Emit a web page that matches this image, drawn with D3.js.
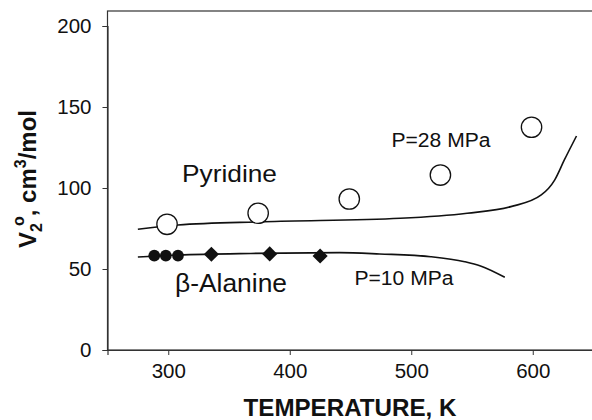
<!DOCTYPE html>
<html><head><meta charset="utf-8">
<script src="https://cdn.jsdelivr.net/npm/d3@7"></script>
<style>body{margin:0;background:#fff}svg{display:block}text{font-family:"Liberation Sans",Arial,sans-serif;fill:#111}</style>
</head><body>
<script>
// ---- data ----
const xTicks = [300, 400, 500, 600];
const yTicks = [0, 50, 100, 150, 200];
const pyridineT = [299, 374, 449, 524, 599];
const pyridineV = [77.6, 84.4, 93.2, 108, 137.5];
const alanineCircleT = [288.5, 298, 308];
const alanineCircleV = [58.3, 58.3, 58.3];
const alanineDiamondT = [335.5, 383.5, 425];
const alanineDiamondV = [59.1, 59.3, 58.0];
const pyridineCurveT = [275, 308, 379, 491, 546, 582, 607, 618, 626, 636];
const pyridineCurveV = [74.5, 77.2, 79.2, 81.3, 84.4, 88.5, 95.7, 104.9, 117.3, 132.1];
const alanineCurveT = [275, 308, 368, 441, 474, 516, 544, 557, 577];
const alanineCurveV = [57.4, 58.6, 59.6, 60.1, 59.3, 57.6, 54.5, 51.9, 44.9];

const W = 592, H = 420;
const svg = d3.select("body").append("svg").attr("width", W).attr("height", H);
const x = d3.scaleLinear().domain([250, 650]).range([107.5, 593.5]);
const y = d3.scaleLinear().domain([0, 200]).range([350, 26]);
const frameTop = 11;

// frame
svg.append("rect").attr("x", x(250)).attr("y", frameTop)
  .attr("width", x(650) - x(250)).attr("height", y(0) - frameTop)
  .attr("fill", "none").attr("stroke", "#333").attr("stroke-width", 1.2);

// axes
const gx = svg.append("g").attr("transform", `translate(0,${y(0)})`)
  .call(d3.axisBottom(x).tickValues(xTicks).tickSize(5).tickPadding(8).tickFormat(d3.format("d")));
const gy = svg.append("g").attr("transform", `translate(${x(250)},0)`)
  .call(d3.axisLeft(y).tickValues(yTicks).tickSize(5).tickPadding(11).tickFormat(d3.format("d")));
[gx, gy].forEach(g => {
  g.attr("font-size", null).attr("font-family", null);
  g.select(".domain").attr("stroke", "#333").attr("stroke-width", 1.2);
  g.selectAll(".tick line").attr("stroke", "#333").attr("stroke-width", 1);
  g.selectAll(".tick text").attr("fill", "#111")
    .style("font-size", "20.5px")
    .style("font-family", '"Liberation Sans",Arial,sans-serif');
});

// curves
const line = d3.line().x(d => x(d[0])).y(d => y(d[1])).curve(d3.curveMonotoneX);
svg.append("path").datum(d3.zip(pyridineCurveT, pyridineCurveV)).attr("d", line)
  .attr("fill", "none").attr("stroke", "#111").attr("stroke-width", 1.6);
svg.append("path").datum(d3.zip(alanineCurveT, alanineCurveV)).attr("d", line)
  .attr("fill", "none").attr("stroke", "#111").attr("stroke-width", 1.6);

// markers
svg.selectAll("circle.pyr").data(d3.zip(pyridineT, pyridineV)).join("circle")
  .attr("cx", d => x(d[0])).attr("cy", d => y(d[1])).attr("r", 10.2)
  .attr("fill", "#fff").attr("stroke", "#111").attr("stroke-width", 1.3);
svg.selectAll("circle.ala").data(d3.zip(alanineCircleT, alanineCircleV)).join("circle")
  .attr("cx", d => x(d[0])).attr("cy", d => y(d[1])).attr("r", 5.9).attr("fill", "#111");
const diamond = d3.symbol().type(d3.symbolSquare).size(115);
svg.selectAll("path.dia").data(d3.zip(alanineDiamondT, alanineDiamondV)).join("path")
  .attr("d", diamond).attr("fill", "#111")
  .attr("transform", d => `translate(${x(d[0])},${y(d[1])}) rotate(45)`);

// labels
function label(xc, yb, size, len, txt) {
  return svg.append("text").attr("x", xc).attr("y", yb).attr("text-anchor", "middle")
    .attr("font-size", size).attr("textLength", len).attr("lengthAdjust", "spacingAndGlyphs").text(txt);
}
label(229.5, 182, 24.5, 95, "Pyridine");
label(231, 292, 25, 112, "β-Alanine");
label(441, 146.5, 19.5, 99, "P=28 MPa");
label(404, 285, 19.5, 99, "P=10 MPa");

// axis titles
svg.append("text").attr("x", 350).attr("y", 416).attr("text-anchor", "middle")
  .attr("font-size", 24).attr("font-weight", "bold")
  .attr("textLength", 213).attr("lengthAdjust", "spacingAndGlyphs").text("TEMPERATURE, K");
const yt = svg.append("text").attr("transform", "translate(36,179) rotate(-90)")
  .attr("text-anchor", "middle").attr("font-size", 24).attr("font-weight", "bold");
yt.append("tspan").text("V");
yt.append("tspan").attr("font-size", 16).attr("dy", 6).text("2");
yt.append("tspan").attr("font-size", 16).attr("dx", -3).attr("dy", -18).text("o");
yt.append("tspan").attr("dy", 12).text(", cm");
yt.append("tspan").attr("font-size", 16).attr("dy", -10).text("3");
yt.append("tspan").attr("dy", 10).text("/mol");
</script>
</body></html>
